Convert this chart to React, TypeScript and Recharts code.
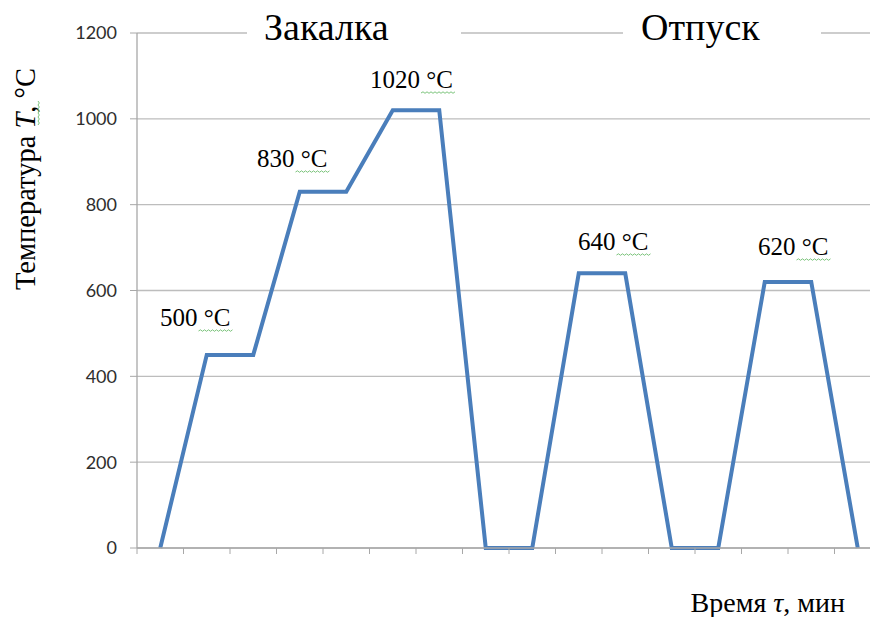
import { LineChart, Line, XAxis, YAxis, CartesianGrid } from 'recharts'

// temperature at the start/end of every step of the heat treatment
const temperatures = [0, 450, 450, 830, 830, 1020, 1020, 0, 0, 640, 640, 0, 0, 620, 620, 0]
const stepBounds = Array.from({ length: temperatures.length + 1 }, (_, i) => i)
const yTicks = [0, 200, 400, 600, 800, 1000, 1200]
const stageTitles = ['Закалка', 'Отпуск']
const plateauLabels = ['500', '830', '1020', '640', '620']

const data = temperatures.map((t, i) => ({ step: i + 0.5, t }))

const serif = '"Liberation Serif", "Times New Roman", serif'
const gridColor = '#bdbdbd'
const axisColor = '#a8a8a8'
const lineColor = '#4a7ebb'
const squiggle = '#7cc47c'

// where the text sits in the picture
const titlePos = [
  { x: 264, box: [247, 461] },
  { x: 641, box: [623, 821] },
]
const labelPos = [
  { x: 160, y: 326 },
  { x: 257, y: 167 },
  { x: 370, y: 88 },
  { x: 578, y: 250 },
  { x: 758, y: 255 },
]

// spell-check style squiggle under a word
function wavePath(x0: number, x1: number, y: number) {
  let d = `M${x0},${y}`
  let up = true
  for (let x = x0 + 2; x <= x1; x += 2) {
    d += ` L${x},${up ? y - 1.2 : y + 0.3}`
    up = !up
  }
  return d
}

function waveV(x: number, y0: number, y1: number) {
  let d = `M${x},${y0}`
  let out = true
  for (let y = y0 + 2; y <= y1; y += 2) {
    d += ` L${out ? x + 1.3 : x},${y}`
    out = !out
  }
  return d
}

export default function App() {
  return (
    <div
      style={{
        position: 'absolute',
        left: 0,
        top: 0,
        width: 870,
        height: 617,
        overflow: 'hidden',
        background: '#fff',
      }}
    >
      <LineChart
        width={900}
        height={617}
        data={data}
        margin={{ top: 33, right: 19, left: 0, bottom: 39 }}
      >
        <CartesianGrid vertical={false} stroke={gridColor} strokeWidth={1.3} />
        <XAxis
          type="number"
          dataKey="step"
          domain={[0, temperatures.length]}
          ticks={stepBounds}
          tickFormatter={() => ''}
          height={30}
          tickSize={6}
          stroke={axisColor}
          axisLine={{ stroke: axisColor, strokeWidth: 1.3 }}
          tickLine={{ stroke: axisColor }}
        />
        <YAxis
          domain={[0, 1200]}
          ticks={yTicks}
          width={137}
          tickSize={7}
          tickMargin={13}
          axisLine={{ stroke: axisColor, strokeWidth: 1.3 }}
          tickLine={{ stroke: axisColor }}
          tick={{ fill: '#2e2e2e', fontSize: 18, fontFamily: 'Lato, "Open Sans", sans-serif' }}
        />
        <Line
          type="linear"
          dataKey="t"
          stroke={lineColor}
          strokeWidth={4}
          dot={false}
          activeDot={false}
          isAnimationActive={false}
        />
      </LineChart>

      <svg
        width={870}
        height={617}
        style={{ position: 'absolute', left: 0, top: 0, pointerEvents: 'none' }}
        fontFamily={serif}
      >
        {stageTitles.map((title, i) => (
          <g key={title}>
            <rect
              x={titlePos[i].box[0]}
              y={18}
              width={titlePos[i].box[1] - titlePos[i].box[0]}
              height={28}
              fill="#fff"
            />
            <text x={titlePos[i].x} y={40} fontSize={38} fill="#000">
              {title}
            </text>
          </g>
        ))}

        {plateauLabels.map((v, i) => {
          const { x, y } = labelPos[i]
          const start = x + v.length * 12.5 + 1
          return (
            <g key={v}>
              <text x={x} y={y} fontSize={25} fill="#000">
                {v} °C
              </text>
              <path
                d={wavePath(start, start + 34, y + 5)}
                fill="none"
                stroke={squiggle}
                strokeWidth={1}
              />
            </g>
          )
        })}

        <text
          transform="translate(35,179) rotate(-90)"
          textAnchor="middle"
          fontSize={28.5}
          fill="#000"
        >
          Температура <tspan fontStyle="italic">T</tspan>, °C
        </text>
        <path d={waveV(38, 101, 125)} fill="none" stroke={squiggle} strokeWidth={1} />

        <text x={845} y={612} textAnchor="end" fontSize={28} fill="#000">
          Время <tspan fontStyle="italic">τ</tspan>, мин
        </text>
      </svg>
    </div>
  )
}
